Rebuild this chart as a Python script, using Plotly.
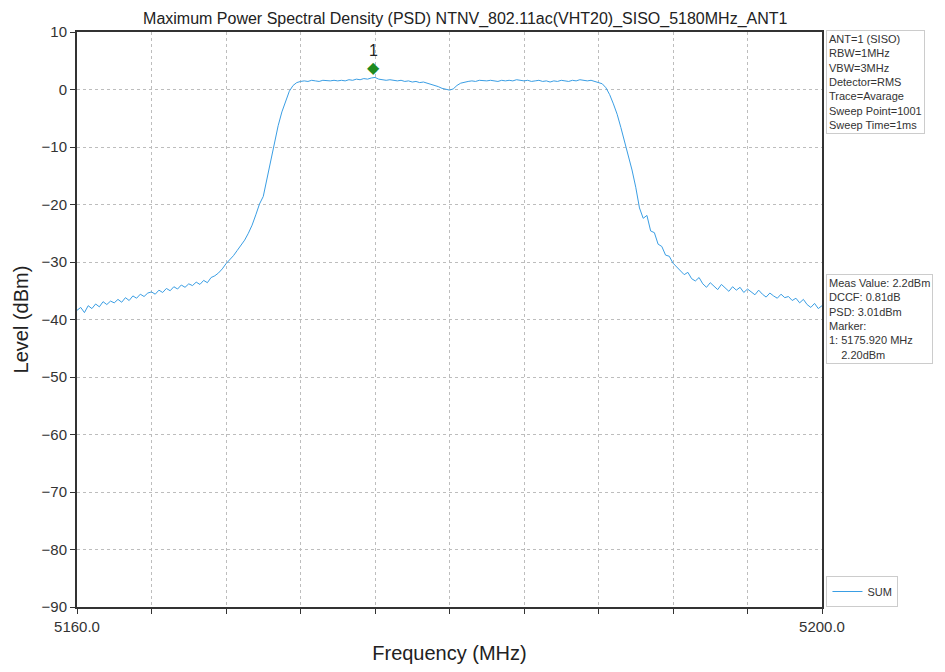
import numpy as np
import plotly.graph_objects as go

# ---------------- data ----------------
title_text = "Maximum Power Spectral Density (PSD) NTNV_802.11ac(VHT20)_SISO_5180MHz_ANT1"
freq_start = 5160.0
freq_step = 0.2  # MHz between read-off samples

level_dbm = [
    # 5160.0 - 5162.0
    -38.4, -37.9, -38.8, -37.6, -38.1, -37.3, -37.8, -36.9, -37.4, -36.8, -37.1,
    # 5162.2 - 5164.0
    -36.5, -37.0, -36.2, -36.7, -35.9, -36.3, -35.6, -36.0, -35.4, -35.2,
    # 5164.2 - 5166.0
    -35.6, -34.9, -35.3, -34.6, -35.0, -34.3, -34.7, -34.0, -34.4, -33.8,
    # 5166.2 - 5168.0
    -34.1, -33.5, -33.9, -33.2, -33.6, -32.7, -32.4, -31.9, -31.2, -30.3,
    # 5168.2 - 5170.0
    -29.6, -28.9, -28.0, -27.1, -26.2, -25.0, -23.6, -21.8, -19.9, -18.6,
    # 5170.2 - 5172.0
    -15.5, -12.0, -9.0, -6.3, -3.9, -1.9, -0.3, 0.7, 1.2, 1.4,
    # 5172.2 - 5174.0
    1.5, 1.4, 1.6, 1.5, 1.4, 1.6, 1.5, 1.5, 1.6, 1.5,
    # 5174.2 - 5176.0
    1.6, 1.5, 1.7, 1.6, 1.8, 1.7, 1.9, 1.8, 2.0, 2.1,
    # 5176.2 - 5178.0
    1.8, 1.7, 1.6, 1.7, 1.6, 1.5, 1.6, 1.4, 1.5, 1.3,
    # 5178.2 - 5180.0
    1.4, 1.2, 1.3, 1.1, 1.0, 0.8, 0.5, 0.2, 0.0, -0.1,
    # 5180.2 - 5182.0
    0.1, 0.7, 1.1, 1.3, 1.4, 1.5, 1.4, 1.6, 1.5, 1.5,
    # 5182.2 - 5184.0
    1.6, 1.5, 1.4, 1.6, 1.5, 1.6, 1.5, 1.7, 1.6, 1.5,
    # 5184.2 - 5186.0
    1.6, 1.4, 1.5, 1.6, 1.4, 1.5, 1.3, 1.5, 1.4, 1.6,
    # 5186.2 - 5188.0
    1.5, 1.4, 1.6, 1.5, 1.7, 1.6, 1.5, 1.6, 1.4, 1.3,
    # 5188.2 - 5190.0
    1.0, 0.3, -0.9, -2.5, -4.3, -6.6, -9.0, -11.5, -14.0, -17.0,
    # 5190.2 - 5192.0
    -20.6, -22.4, -21.9, -24.6, -24.9, -26.9, -27.3, -28.8, -29.0, -30.2,
    # 5192.2 - 5194.0
    -30.9, -31.6, -32.2, -31.8, -32.9, -33.3, -32.7, -33.8, -34.4, -33.6,
    # 5194.2 - 5196.0
    -34.2, -34.8, -33.9, -34.5, -35.1, -34.3, -34.9, -34.4, -35.3, -34.7,
    # 5196.2 - 5198.0
    -35.2, -35.7, -34.9, -35.6, -36.1, -35.4, -35.9, -36.3, -35.6, -36.2,
    # 5198.2 - 5200.0
    -36.0, -36.7, -36.3, -37.1, -36.5, -37.4, -37.9, -37.2, -38.1, -37.6,
]
freq_mhz = [round(freq_start + freq_step * i, 3) for i in range(len(level_dbm))]

marker_freq = 5175.92
marker_level = 2.20
marker_label = "1"

x_tick_vals = [5160, 5164, 5168, 5172, 5176, 5180, 5184, 5188, 5192, 5196, 5200]
x_tick_text = ["5160.0", "", "", "", "", "", "", "", "", "", "5200.0"]
y_tick_vals = [10, 0, -10, -20, -30, -40, -50, -60, -70, -80, -90]

settings_lines = ["ANT=1 (SISO)", "RBW=1MHz", "VBW=3MHz", "Detector=RMS",
                  "Trace=Avarage", "Sweep Point=1001", "Sweep Time=1ms"]
result_lines = ["Meas Value: 2.2dBm", "DCCF: 0.81dB", "PSD: 3.01dBm", "Marker:",
                "1: 5175.920 MHz", "&nbsp;&nbsp;&nbsp;&nbsp;2.20dBm"]

# ---------------- figure ----------------
FONT = "Liberation Sans, Arial, sans-serif"
fig = go.Figure()
fig.add_trace(go.Scatter(
    x=freq_mhz, y=level_dbm, mode="lines", name="SUM",
    line=dict(color="#3a9ee4", width=1),
))

fig.add_annotation(x=marker_freq, y=marker_level, xref="x", yref="y",
                   text="◆", showarrow=False, yshift=9,
                   font=dict(family="DejaVu Sans", size=16, color="#1f8a1f"))
fig.add_annotation(x=marker_freq, y=marker_level, xref="x", yref="y",
                   text=marker_label, showarrow=False, yshift=26,
                   font=dict(family=FONT, size=16, color="#222"))

box_style = dict(xref="paper", yref="paper", showarrow=False, align="left",
                 xanchor="left", yanchor="top", bordercolor="#cccccc",
                 borderwidth=1, borderpad=2, bgcolor="white",
                 font=dict(family=FONT, size=11, color="#333"))
fig.add_annotation(x=1.005, y=1.004, text="<br>".join(settings_lines), **box_style)
fig.add_annotation(x=1.005, y=0.579, text="<br>".join(result_lines), **box_style)

axis_common = dict(showline=True, linecolor="#333", linewidth=2, mirror=True,
                   ticks="outside", ticklen=5, tickcolor="#333", tickwidth=1,
                   showgrid=True, gridcolor="#bdbdbd", griddash="dot", gridwidth=1,
                   zeroline=False,
                   tickfont=dict(family=FONT, size=15, color="#333"))

# the page body adds an 8px offset, so the figure is 8px smaller on each axis
fig.update_layout(
    width=937, height=664,
    margin=dict(l=69, r=123, t=24, b=65),
    paper_bgcolor="white", plot_bgcolor="white",
    title=dict(text=title_text, x=0.488, xanchor="center", y=0.993, yanchor="top",
               pad=dict(t=0, b=0),
               font=dict(family=FONT, size=16, color="#222")),
    xaxis=dict(range=[5160, 5200], tickvals=x_tick_vals, ticktext=x_tick_text,
               title=dict(text="Frequency (MHz)", standoff=12,
                          font=dict(family=FONT, size=20, color="#222")),
               **axis_common),
    yaxis=dict(range=[-90, 10], tickvals=y_tick_vals,
               title=dict(text="Level (dBm)", standoff=8,
                          font=dict(family=FONT, size=20, color="#222")),
               **axis_common),
    showlegend=True,
    legend=dict(x=1.006, y=0.0, xanchor="left", yanchor="bottom",
                bordercolor="#cccccc", borderwidth=1, bgcolor="white",
                font=dict(family=FONT, size=11, color="#333"),
                itemwidth=30, tracegroupgap=0),
)

fig.write_html("out.html")
